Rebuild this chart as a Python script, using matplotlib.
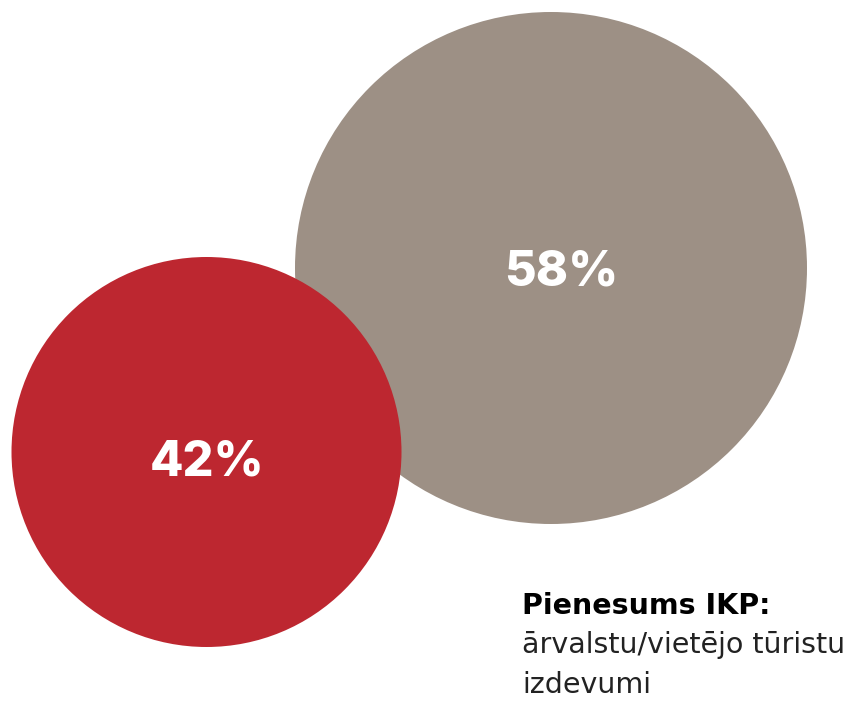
import matplotlib
matplotlib.use("Agg")
import matplotlib.pyplot as plt
from matplotlib.patches import Circle

# Shares of the GDP contribution
shares = [42, 58]
colors = ["#bd2730", "#9d9085"]

# Bubble layout in pixel units (x, y, radius)
centers = [(206.5, 452), (551, 268)]
radii = [195, 256]
label_shift = [(0.5, 10), (10.5, 4)]

title = "Pienesums IKP:"
subtitle_lines = ["ārvalstu/vietējo tūristu", "izdevumi"]

fig = plt.figure(figsize=(8.66, 7.04), dpi=100)
ax = fig.add_axes([0, 0, 1, 1])
ax.set_xlim(0, 866)
ax.set_ylim(704, 0)
ax.set_aspect("equal")
ax.axis("off")

# grey bubble first so the red one sits on top
for i in [1, 0]:
    cx, cy = centers[i]
    ax.add_patch(Circle((cx, cy), radii[i], facecolor=colors[i], edgecolor="none"))
    dx, dy = label_shift[i]
    ax.text(cx + dx, cy + dy, f"{shares[i]}%", color="white", fontsize=35,
            fontweight="heavy", family="Inter", ha="center", va="center")

ax.text(522, 614, title, fontsize=20.5, fontweight="bold", family="DejaVu Sans",
        color="black", ha="left", va="baseline")
for k, line in enumerate(subtitle_lines):
    ax.text(522, 653 + 40 * k, line, fontsize=20.5, family="DejaVu Sans",
            color="#222222", ha="left", va="baseline")

fig.savefig("out.png", dpi=100)
